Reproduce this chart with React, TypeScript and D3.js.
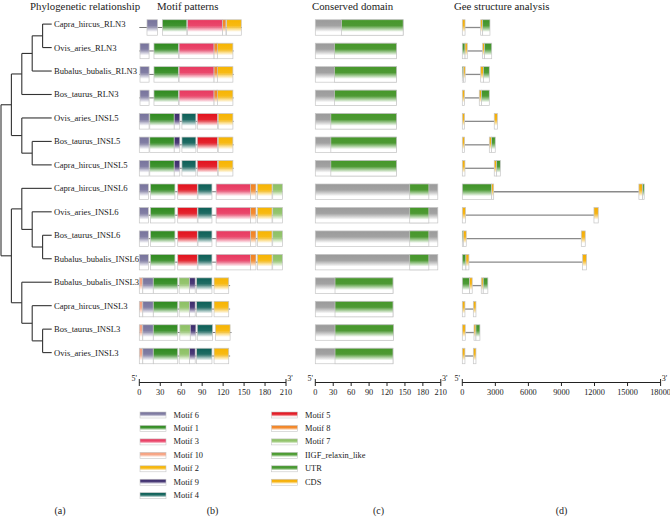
import React from 'react';
import * as d3 from 'd3';

const genes = [
  'Capra_hircus_RLN3', 'Ovis_aries_RLN3', 'Bubalus_bubalis_RLN3', 'Bos_taurus_RLN3',
  'Ovis_aries_INSL5', 'Bos_taurus_INSL5', 'Capra_hircus_INSL5',
  'Capra_hircus_INSL6', 'Ovis_aries_INSL6', 'Bos_taurus_INSL6', 'Bubalus_bubalis_INSL6',
  'Bubalus_bubalis_INSL3', 'Capra_hircus_INSL3', 'Bos_taurus_INSL3', 'Ovis_aries_INSL3',
];

const tree: any = [
  [
    [[['Capra_hircus_RLN3', 'Ovis_aries_RLN3'], 'Bubalus_bubalis_RLN3'], 'Bos_taurus_RLN3'],
    ['Ovis_aries_INSL5', ['Bos_taurus_INSL5', 'Capra_hircus_INSL5']],
  ],
  [
    ['Capra_hircus_INSL6', ['Ovis_aries_INSL6', ['Bos_taurus_INSL6', 'Bubalus_bubalis_INSL6']]],
    ['Bubalus_bubalis_INSL3', ['Capra_hircus_INSL3', ['Bos_taurus_INSL3', 'Ovis_aries_INSL3']]],
  ],
];

const proteinLength = [147, 135, 135, 135, 135, 135, 135, 205, 205, 205, 205, 130, 130, 132, 130];

type Seg = [string, number, number];

const motifRLN3a: Seg[] = [['Motif 6', 11, 26], ['Motif 1', 33, 68], ['Motif 3', 69, 119], ['Motif 2', 125, 146], ['Motif 8', 119, 124]];
const motifRLN3: Seg[] = [['Motif 6', 1, 14], ['Motif 1', 21, 56], ['Motif 3', 57, 107], ['Motif 2', 111, 134], ['Motif 8', 107, 112]];
const motifINSL5: Seg[] = [['Motif 6', 0, 14], ['Motif 1', 15, 50], ['Motif 9', 50, 58], ['Motif 4', 61, 81], ['Motif 5', 83, 112], ['Motif 2', 113, 134]];
const motifINSL6: Seg[] = [['Motif 6', 0, 13], ['Motif 1', 16, 51], ['Motif 5', 55, 83], ['Motif 4', 84, 104], ['Motif 3', 110, 159], ['Motif 8', 159, 167], ['Motif 2', 169, 190], ['Motif 7', 191, 205]];
const motifINSL3: Seg[] = [['Motif 10', 0, 5], ['Motif 6', 5, 20], ['Motif 1', 20, 55], ['Motif 7', 57, 72], ['Motif 9', 72, 80], ['Motif 4', 82, 104], ['Motif 2', 107, 128]];
const motifINSL3b: Seg[] = [['Motif 10', 0, 5], ['Motif 6', 5, 20], ['Motif 1', 20, 55], ['Motif 7', 58, 73], ['Motif 9', 73, 81], ['Motif 4', 83, 105], ['Motif 2', 109, 130]];

const motifs: Seg[][] = [
  motifRLN3a, motifRLN3, motifRLN3, motifRLN3,
  motifINSL5, motifINSL5, motifINSL5,
  motifINSL6, motifINSL6, motifINSL6, motifINSL6,
  motifINSL3, motifINSL3, motifINSL3b, motifINSL3,
];

const domainLength = [147, 136, 136, 136, 136, 136, 136, 205, 205, 205, 205, 130, 130, 131, 130];
const domainStart = [44, 32, 32, 32, 26, 26, 26, 158, 158, 158, 158, 33, 33, 33, 33];
const domainEnd = [147, 136, 136, 136, 136, 136, 136, 190, 190, 190, 190, 130, 130, 131, 130];

const exons: Seg[][] = [
  [['CDS', 0, 250], ['CDS', 1670, 1850], ['UTR', 1850, 2510]],
  [['UTR', 0, 250], ['CDS', 250, 450], ['CDS', 1850, 2030], ['UTR', 2030, 2670]],
  [['UTR', 0, 110], ['CDS', 110, 260], ['CDS', 1670, 1910], ['UTR', 1910, 2450]],
  [['CDS', 0, 210], ['CDS', 1540, 1750], ['UTR', 1750, 2450]],
  [['CDS', 0, 210], ['CDS', 2900, 3180]],
  [['CDS', 0, 210], ['CDS', 2450, 2660], ['UTR', 2660, 2990]],
  [['CDS', 0, 240], ['CDS', 2900, 3120], ['UTR', 3120, 3450]],
  [['UTR', 0, 2670], ['CDS', 2670, 2850], ['CDS', 16030, 16370], ['UTR', 16370, 16510]],
  [['CDS', 0, 300], ['CDS', 11950, 12340]],
  [['UTR', 0, 90], ['CDS', 90, 360], ['CDS', 10800, 11160]],
  [['UTR', 0, 330], ['CDS', 330, 600], ['CDS', 10920, 11280]],
  [['UTR', 0, 660], ['CDS', 660, 900], ['CDS', 1720, 1900], ['UTR', 1900, 2320]],
  [['CDS', 0, 240], ['CDS', 1000, 1240]],
  [['CDS', 0, 270], ['CDS', 1060, 1240], ['UTR', 1240, 1600]],
  [['CDS', 0, 240], ['CDS', 1000, 1240]],
];

const featureNames = ['Motif 6', 'Motif 1', 'Motif 3', 'Motif 10', 'Motif 2', 'Motif 9', 'Motif 4',
  'Motif 5', 'Motif 8', 'Motif 7', 'IIGF_relaxin_like', 'UTR', 'CDS', 'protein'];
const featureColors = ['#77739c', '#2f8a1f', '#e8385f', '#f6a07e', '#f7b400', '#3b2b6c', '#0c5f57',
  '#e2111c', '#f28220', '#8cc063', '#46982a', '#3e9326', '#f5ad00', '#9a9a9a'];

const legendLeft = ['Motif 6', 'Motif 1', 'Motif 3', 'Motif 10', 'Motif 2', 'Motif 9', 'Motif 4'];
const legendRight = ['Motif 5', 'Motif 8', 'Motif 7', 'IIGF_relaxin_like', 'UTR', 'CDS'];

const aaTicks = [0, 30, 60, 90, 120, 150, 180, 210];
const bpTicks = [0, 3000, 6000, 9000, 12000, 15000, 18000];

const titles = ['Phylogenetic relationship', 'Motif patterns', 'Conserved domain', 'Gee structure analysis'];
const panelLabels = ['(a)', '(b)', '(c)', '(d)'];

const FONT = '"Liberation Serif", "Times New Roman", serif';

const gid = (n: string) => 'g-' + n.replace(/[^a-zA-Z0-9]/g, '_');
const colorOf = (n: string) => featureColors[featureNames.indexOf(n)];

export default function App() {
  const W = 670, H = 519;
  const boxY = d3.scaleLinear().domain([0, genes.length - 1]).range([27.5, 356]);
  const labelY = (i: number) => boxY(i) - 3.4;
  const BH = 15.5;

  const xMotif = d3.scaleLinear().domain([0, 210]).range([139.3, 286]);
  const xDom = d3.scaleLinear().domain([0, 210]).range([315.3, 440.8]);
  const xGene = d3.scaleLinear().domain([0, 18000]).range([462.3, 660.6]);

  const root = d3.hierarchy<any>(tree, (d: any) => (Array.isArray(d) ? d : null));
  const leafX = 51.7;
  root.eachAfter((n: any) => {
    if (!n.children) {
      n.px = leafX;
      n.py = labelY(genes.indexOf(n.data));
    } else {
      n.px = 1 + n.depth * 10.4;
      n.py = (n.children[0].py + n.children[n.children.length - 1].py) / 2;
    }
  });
  const treeLines: any[] = [];
  root.each((n: any) => {
    if (n.children) {
      treeLines.push({ x1: n.px, y1: n.children[0].py, x2: n.px, y2: n.children[n.children.length - 1].py });
      n.children.forEach((c: any) => treeLines.push({ x1: n.px, y1: c.py, x2: c.px, y2: c.py }));
    }
  });

  const box = (key: string, x0: number, x1: number, yc: number, name: string) => (
    <rect key={key} x={x0} y={yc - BH / 2} width={Math.max(0.5, x1 - x0)} height={BH}
      fill={`url(#${gid(name)})`} stroke="#c6c6c6" strokeWidth={0.7} />
  );

  const axis = (scale: d3.ScaleLinear<number, number>, ticks: number[], key: string) => {
    const y = 382.5;
    const [r0, r1] = scale.range();
    return (
      <g key={key} fontFamily={FONT} fill="#222">
        <line x1={r0} x2={r1} y1={y} y2={y} stroke="#222" strokeWidth={1} />
        {ticks.map((t, i) => {
          const end = i === 0 || i === ticks.length - 1;
          return <line key={t} x1={scale(t)} x2={scale(t)} y1={end ? y - 3.5 : y} y2={y + 3.5} stroke="#222" strokeWidth={1} />;
        })}
        {ticks.map((t) => (
          <text key={'l' + t} x={scale(t)} y={395} fontSize={8.3} textAnchor="middle">{t}</text>
        ))}
        <text x={r0 - 5} y={381} fontSize={8} textAnchor="middle">5'</text>
        <text x={r1 + 4} y={381} fontSize={8} textAnchor="middle">3'</text>
      </g>
    );
  };

  const legendItem = (name: string, i: number, x: number) => {
    const y = 415 + i * 13.45;
    return (
      <g key={name}>
        <rect x={x} y={y - 3} width={26} height={6} fill={`url(#${gid(name)})`} stroke="#c6c6c6" strokeWidth={0.6} />
        <text x={x + 33.5} y={y} fontSize={8.4} dominantBaseline="central" fontFamily={FONT} fill="#222">{name}</text>
      </g>
    );
  };

  return (
    <svg width={W} height={H} style={{ position: 'absolute', left: 0, top: 0, background: '#fff' }}>
      <defs>
        {featureNames.map((n) => (
          <linearGradient key={n} id={gid(n)} x1="0" y1="0" x2="0" y2="1">
            <stop offset="0" stopColor={colorOf(n)} />
            <stop offset="0.38" stopColor={colorOf(n)} stopOpacity={0.92} />
            <stop offset="0.78" stopColor="#ffffff" />
            <stop offset="1" stopColor="#ffffff" />
          </linearGradient>
        ))}
      </defs>

      <g fontFamily={FONT} fontSize={10.8} fill="#222">
        <text x={30} y={9.5}>{titles[0]}</text>
        <text x={157} y={9.5}>{titles[1]}</text>
        <text x={312} y={9.5}>{titles[2]}</text>
        <text x={454} y={9.5}>{titles[3]}</text>
      </g>

      <g stroke="#333" strokeWidth={1.1}>
        {treeLines.map((l, i) => <line key={i} x1={l.x1} y1={l.y1} x2={l.x2} y2={l.y2} />)}
      </g>
      <g fontFamily={FONT} fontSize={8.6} fill="#222">
        {genes.map((g, i) => (
          <text key={g} x={54} y={labelY(i)} dominantBaseline="central">{g}</text>
        ))}
      </g>

      {motifs.map((row, i) => (
        <g key={'m' + i}>
          <line x1={xMotif(0)} x2={xMotif(proteinLength[i])} y1={boxY(i)} y2={boxY(i)} stroke="#777" strokeWidth={1} />
          {row.map((s, j) => box('m' + i + '-' + j, xMotif(s[1]), xMotif(s[2]), boxY(i), s[0]))}
        </g>
      ))}

      {domainLength.map((len, i) => (
        <g key={'d' + i}>
          {box('dp' + i, xDom(0), xDom(len), boxY(i), 'protein')}
          {box('dd' + i, xDom(domainStart[i]), xDom(domainEnd[i]), boxY(i), 'IIGF_relaxin_like')}
        </g>
      ))}

      {exons.map((row, i) => {
        let gapStart = 0, gapEnd = 0;
        for (let k = 0; k < row.length - 1; k++) {
          if (row[k + 1][1] > row[k][2]) { gapStart = row[k][2]; gapEnd = row[k + 1][1]; }
        }
        return (
          <g key={'e' + i}>
            <line x1={xGene(gapStart)} x2={xGene(gapEnd)} y1={boxY(i)} y2={boxY(i)} stroke="#8a8a8a" strokeWidth={1.3} />
            {row.map((s, j) => box('e' + i + '-' + j, xGene(s[1]), xGene(s[2]), boxY(i), s[0]))}
          </g>
        );
      })}

      {axis(xMotif, aaTicks, 'ax1')}
      {axis(xDom, aaTicks, 'ax2')}
      {axis(xGene, bpTicks, 'ax3')}

      {legendLeft.map((n, i) => legendItem(n, i, 140))}
      {legendRight.map((n, i) => legendItem(n, i, 271.5))}

      <g fontFamily={FONT} fontSize={10} fill="#222" textAnchor="middle">
        <text x={60} y={514}>{panelLabels[0]}</text>
        <text x={212.5} y={514}>{panelLabels[1]}</text>
        <text x={378.5} y={514}>{panelLabels[2]}</text>
        <text x={561.5} y={514}>{panelLabels[3]}</text>
      </g>
    </svg>
  );
}
